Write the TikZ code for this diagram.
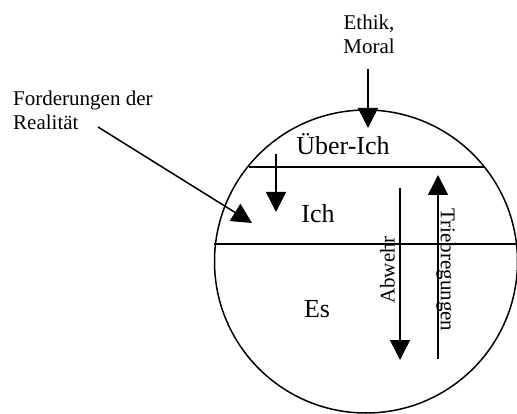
\documentclass[tikz,border=0pt]{standalone}
\usepackage{fontspec}
\setmainfont{Liberation Serif}
\usetikzlibrary{arrows.meta}

\tikzset{
  strich/.style={line width=1.5pt},
  pfeil/.style={strich,-{Triangle[width=20pt,length=20pt]}},
  klein/.style={font=\fontsize{21}{24}\selectfont,inner sep=0pt},
  gross/.style={font=\fontsize{26}{30}\selectfont,inner sep=0pt},
}

\begin{document}
\begin{tikzpicture}[x=1pt,y=-1pt]
  \useasboundingbox (0,0) rectangle (517,414);

  % Kreis mit den drei Instanzen
  \draw[strich] (366,261.5) circle[radius=151.5pt];
  \coordinate (o1) at (248.5,167);
  \coordinate (o2) at (484.5,167);
  \coordinate (u1) at (214,244);
  \coordinate (u2) at (517,244);
  \draw[strich] (o1) -- (o2);
  \draw[strich] (u1) -- (u2);

  \node[gross,anchor=base] (ueberich) at (343,155) {Über-Ich};
  \node[gross,anchor=base] (ich) at (318,223) {Ich};
  \node[gross,anchor=base] (es) at (317,317) {Es};

  % Texte aussen
  \node[klein,align=center,anchor=north] (ethik) at (369,15) {Ethik,\\Moral};
  \node[klein,align=left,anchor=north west] (forderung) at (13,91) {Forderungen der\\Realität};

  % Pfeile
  \coordinate (e1) at (368,69);
  \coordinate (e2) at (368,128);
  \draw[pfeil] (e1) -- (e2);

  \coordinate (f1) at (98,127);
  \coordinate (f2) at (252,223);
  \draw[pfeil] (f1) -- (f2);

  \coordinate (s1) at (276,154);
  \coordinate (s2) at (276,212);
  \draw[pfeil] (s1) -- (s2);

  \coordinate (a1) at (400,188);
  \coordinate (a2) at (400,360);
  \draw[pfeil] (a1) -- (a2);

  \coordinate (t1) at (438,359);
  \coordinate (t2) at (438,175);
  \draw[pfeil] (t1) -- (t2);

  \node[klein,rotate=90] (abwehr) at (387.5,270) {Abwehr};
  \node[klein,rotate=-90] (trieb) at (446,270) {Triebregungen};
\end{tikzpicture}
\end{document}
